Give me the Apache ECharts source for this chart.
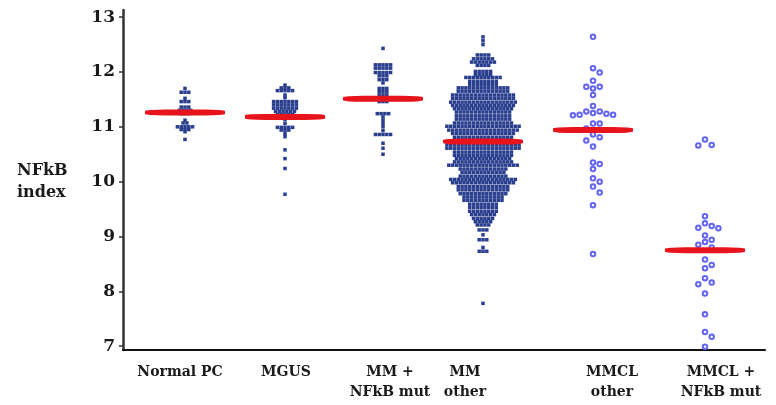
<!DOCTYPE html>
<html>
<head>
<meta charset="utf-8">
<script src="https://cdn.jsdelivr.net/npm/echarts@6/dist/echarts.min.js"></script>
<style>
  html, body { margin: 0; padding: 0; background: #fff; }
  #nfkb { width: 776px; height: 405px; }
</style>
</head>
<body>
<div id="nfkb"></div>
<script>
// ---- data ----
const groups = ["Normal PC", "MGUS", "MM +\nNFkB mut", "MM\nother", "MMCL\nother", "MMCL +\nNFkB mut"];
const yTicks = [7, 8, 9, 10, 11, 12, 13];
const medians = [11.26, 11.18, 11.51, 10.73, 10.94, 8.75];

// dense groups: [NFkB index, number of dots in that row]
const normalPcRows = [
  [11.70, 1], [11.63, 3], [11.52, 1], [11.46, 3], [11.36, 3], [11.30, 4], [11.24, 3],
  [11.12, 1], [11.07, 2], [11.00, 5], [10.95, 3], [10.91, 1], [10.77, 1]
];
const mgusRows = [
  [11.76, 1], [11.71, 3], [11.66, 5], [11.58, 1], [11.53, 1], [11.46, 7], [11.40, 7],
  [11.34, 7], [11.28, 6], [11.22, 5], [11.13, 1], [11.06, 1], [10.99, 5], [10.94, 3],
  [10.88, 1], [10.82, 1], [10.58, 1], [10.42, 1], [10.24, 1], [9.77, 1]
];
const mmMutRows = [
  [12.43, 1], [12.13, 5], [12.07, 5], [11.99, 5], [11.93, 3], [11.86, 3], [11.80, 1],
  [11.70, 3], [11.64, 3], [11.58, 3], [11.52, 3], [11.46, 3], [11.24, 4], [11.18, 1],
  [11.12, 1], [11.06, 1], [11.00, 1], [10.93, 1], [10.86, 5], [10.70, 1], [10.61, 1], [10.50, 1]
];
const mmOtherRows = [
  [12.64, 1], [12.57, 1], [12.50, 1], [12.31, 4], [12.24, 6], [12.18, 7], [12.12, 4],
  [12.01, 5], [11.95, 5], [11.90, 10], [11.83, 8], [11.77, 8], [11.71, 14], [11.65, 14],
  [11.58, 17], [11.52, 17], [11.45, 18], [11.39, 17], [11.33, 16], [11.27, 15], [11.20, 15],
  [11.14, 15], [11.07, 16], [11.01, 20], [10.94, 19], [10.88, 17], [10.81, 16], [10.75, 16],
  [10.67, 20], [10.61, 20], [10.54, 16], [10.48, 16], [10.42, 15], [10.36, 16], [10.30, 19],
  [10.23, 13], [10.17, 12], [10.10, 13], [10.04, 18], [9.98, 17], [9.91, 14], [9.85, 14],
  [9.78, 13], [9.72, 11], [9.66, 11], [9.59, 8], [9.53, 8], [9.46, 8], [9.40, 7], [9.33, 6],
  [9.27, 5], [9.21, 4], [9.12, 3], [9.03, 1], [8.94, 3], [8.80, 1], [8.73, 3], [7.78, 1]
];

// cell lines: single values
const mmclOther = [
  12.64, 12.07, 11.99, 11.84, 11.73, 11.70, 11.73, 11.58, 11.38, 11.28, 11.24, 11.22,
  11.21, 11.22, 11.25, 11.28, 11.06, 11.06, 10.97, 10.86, 10.81, 10.75, 10.64, 10.35,
  10.32, 10.23, 10.06, 10.00, 9.91, 9.80, 9.57, 8.68
];
const mmclMut = [
  10.77, 10.67, 10.66, 9.37, 9.24, 9.19, 9.16, 9.15, 9.02, 8.94, 8.90, 8.85, 8.80,
  8.58, 8.48, 8.42, 8.24, 8.16, 8.13, 7.96, 7.58, 7.26, 7.17, 6.99
];

// ---- layout ----
const gridBox = { left: 123, right: 11, top: 10, bottom: 55 };
const gridW = 776 - gridBox.left - gridBox.right;
const gridH = 405 - gridBox.top - gridBox.bottom;
const xRange = [0, 6.42];
const yRange = [6.93, 13.13];
const groupPos = [0.62, 1.62, 2.60, 3.60, 4.70, 5.82];
const labelPos = [0.57, 1.63, 2.67, 3.42, 4.89, 5.98];
const unitPerPxX = (xRange[1] - xRange[0]) / gridW;
const pxPerUnitY = gridH / (yRange[1] - yRange[0]);

// rows of dots centred on the group position
function rowsToPoints(rows, cx, gap) {
  let pts = [];
  rows.forEach(([v, n]) => {
    for (let i = 0; i < n; i++) {
      pts.push([cx + (i - (n - 1) / 2) * gap * unitPerPxX, v]);
    }
  });
  return pts;
}

// simple beeswarm for the hollow markers
function swarm(values, cx, gap) {
  let placed = [];
  values.slice().sort((a, b) => b - a).forEach((v) => {
    for (let k = 0; k < 40; k++) {
      let off = k === 0 ? 0 : (k % 2 ? (k + 1) / 2 : -k / 2);
      let hit = placed.some((p) => {
        let dx = (off - p.off) * gap;
        let dy = (v - p.v) * pxPerUnitY;
        return dx * dx + dy * dy < gap * gap * 0.9;
      });
      if (!hit) {
        placed.push({ off: off, v: v });
        break;
      }
    }
  });
  return placed.map((p) => [cx + p.off * gap * unitPerPxX, p.v]);
}

const densePoints = []
  .concat(rowsToPoints(normalPcRows, groupPos[0], 3.8))
  .concat(rowsToPoints(mgusRows, groupPos[1], 3.8))
  .concat(rowsToPoints(mmMutRows, groupPos[2], 3.8))
  .concat(rowsToPoints(mmOtherRows, groupPos[3], 3.8));
const hollowPoints = swarm(mmclOther, groupPos[4], 6.7).concat(swarm(mmclMut, groupPos[5], 6.7));
const medianPoints = medians.map((m, i) => [groupPos[i], m]);

const serif = '"DejaVu Serif", "Liberation Serif", serif';

var myChart = echarts.init(document.getElementById("nfkb"));
myChart.setOption({
  animation: false,
  backgroundColor: "#fff",
  grid: {
    left: gridBox.left,
    right: gridBox.right,
    top: gridBox.top,
    bottom: gridBox.bottom,
    outerBoundsMode: "none",
  },
  graphic: [
    {
      type: "text",
      left: 17,
      top: 160,
      style: {
        text: "NFkB\nindex",
        font: "bold 16px " + serif,
        lineHeight: 22,
        fill: "#1a1a1a",
      },
    },
  ],
  xAxis: {
    type: "value",
    min: xRange[0],
    max: xRange[1],
    splitLine: { show: false },
    axisTick: { show: false },
    axisLine: { lineStyle: { color: "#111", width: 2 } },
    axisLabel: {
      customValues: labelPos,
      showMinLabel: true,
      showMaxLabel: true,
      hideOverlap: false,
      formatter: function (value) {
        // pick the group whose label sits at this position
        let idx = 0;
        labelPos.forEach((p, i) => {
          if (Math.abs(p - value) < Math.abs(labelPos[idx] - value)) idx = i;
        });
        return groups[idx];
      },
      margin: 12,
      fontFamily: serif,
      fontWeight: "bold",
      fontSize: 14,
      lineHeight: 20,
      color: "#1a1a1a",
    },
  },
  yAxis: {
    type: "value",
    min: yRange[0],
    max: yRange[1],
    splitLine: { show: false },
    axisLine: { show: true, lineStyle: { color: "#333", width: 2.5 } },
    axisTick: { show: true, length: 4, customValues: yTicks, lineStyle: { color: "#333", width: 1.5 } },
    axisLabel: {
      customValues: yTicks,
      margin: 8,
      fontFamily: serif,
      fontWeight: "bold",
      fontSize: 17,
      color: "#1a1a1a",
    },
  },
  series: [
    {
      name: "patients",
      type: "scatter",
      clip: false,
      symbol: "rect",
      symbolSize: 3.5,
      itemStyle: { color: "#2a3e8e", opacity: 1 },
      data: densePoints,
      z: 2,
    },
    {
      name: "cell lines",
      type: "scatter",
      clip: false,
      symbol: "emptyCircle",
      symbolSize: 4.5,
      itemStyle: { color: "#6464f5", borderWidth: 1.5, opacity: 1 },
      data: hollowPoints,
      z: 2,
    },
    {
      name: "median",
      type: "scatter",
      clip: false,
      symbol: "roundRect",
      symbolSize: [80, 6],
      itemStyle: { color: "#e8141c", opacity: 1 },
      data: medianPoints,
      z: 3,
    },
  ],
});
</script>
</body>
</html>
